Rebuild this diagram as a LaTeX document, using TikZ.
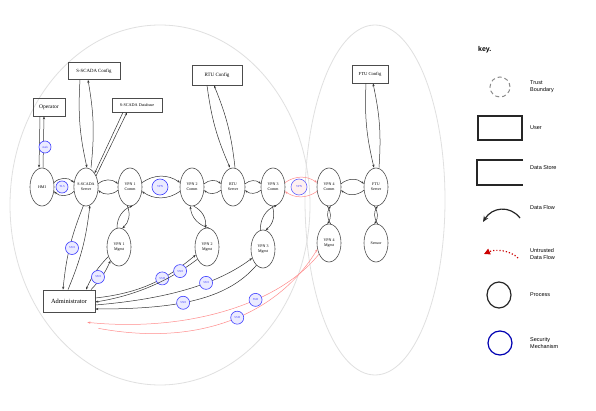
\documentclass[tikz,border=0pt]{standalone}
\usepackage{fontspec}
\setmainfont{Liberation Serif}
\newfontfamily\keyfont{Liberation Sans}
\usetikzlibrary{shapes.geometric,arrows.meta}

\tikzset{
  boundary/.style={draw=black!12, line width=0.8pt},
  proc/.style={ellipse, draw=black!70, line width=0.6pt, minimum width=24pt,
    minimum height=38pt, inner sep=0pt, align=center,
    font=\fontsize{4}{4.8}\selectfont},
  userbox/.style={draw=black!70, line width=0.7pt, inner sep=0pt, align=center},
  sec/.style={circle, draw=blue!75, fill=blue!8, line width=0.6pt,
    minimum size=13pt, inner sep=0pt, text=blue!75,
    font=\fontsize{3}{3.5}\selectfont},
  flow/.style={draw=black!80, line width=0.5pt, -{Stealth[length=3pt,width=2.2pt]}},
  untrusted/.style={draw=red!45, line width=0.5pt, -{Stealth[length=3pt,width=2.2pt]}},
  keytext/.style={font=\keyfont\fontsize{5.5}{7}\selectfont, anchor=west, align=left, inner sep=0pt},
  keyline/.style={line width=1.2pt, black!85}
}

\begin{document}
\begin{tikzpicture}[x=1pt,y=-1pt]
\useasboundingbox (0,0) rectangle (596,411);
\fill[white] (0,0) rectangle (596,411);

% trust boundaries
\draw[boundary] (160,205) ellipse [x radius=150pt, y radius=180pt];
\draw[boundary] (375,200) ellipse [x radius=70pt, y radius=175pt];

% users and data stores
\node[userbox, minimum width=32pt, minimum height=18pt, font=\fontsize{5.5}{6.5}\selectfont] (operator) at (49,107) {Operator};
\node[userbox, minimum width=52pt, minimum height=17pt, font=\fontsize{4.8}{5.5}\selectfont] (scfg) at (94,71) {S-SCADA Config};
\node[userbox, minimum width=50pt, minimum height=14pt, font=\fontsize{4.2}{5}\selectfont] (sdb) at (137,105) {S-SCADA Database};
\node[userbox, minimum width=50pt, minimum height=20pt, font=\fontsize{5}{6}\selectfont] (rtucfg) at (217,75) {RTU Config};
\node[userbox, minimum width=36pt, minimum height=18pt, font=\fontsize{4.6}{5.5}\selectfont] (ftucfg) at (370,74) {FTU Config};
\node[userbox, minimum width=52pt, minimum height=22pt, font=\fontsize{6.4}{7.5}\selectfont] (admin) at (69,301) {Administrator};

% processes, main row
\node[proc] (hmi)   at (42,187)  {HMI};
\node[proc] (scada) at (86,187)  {S-SCADA\\Server};
\node[proc] (vpn1c) at (130,187) {VPN 1\\Comm};
\node[proc] (vpn2c) at (192,187) {VPN 2\\Comm};
\node[proc] (rtu)   at (233,187) {RTU\\Server};
\node[proc] (vpn3c) at (273,187) {VPN 3\\Comm};
\node[proc] (vpn4c) at (329,187) {VPN 4\\Comm};
\node[proc] (ftu)   at (376,187) {FTU\\Server};

% processes, lower row
\node[proc] (vpn1m)  at (119,247) {VPN 1\\Mgmt};
\node[proc] (vpn2m)  at (207,247) {VPN 2\\Mgmt};
\node[proc] (vpn3m)  at (263,249) {VPN 3\\Mgmt};
\node[proc] (vpn4m)  at (329,243) {VPN 4\\Mgmt};
\node[proc] (sensor) at (376,243) {Sensor};

% operator <-> HMI
\draw[flow] ([xshift=-9pt]operator.south) -- ([xshift=-3pt]hmi.north);
\draw[flow] ([xshift=1pt]hmi.north) -- ([xshift=-5pt]operator.south);

% config / database flows
\draw[flow] ([xshift=-14pt]scfg.south) to[bend right=8] ([xshift=1pt]scada.north);
\draw[flow] ([xshift=5pt]scada.north) to[bend right=8] ([xshift=-6pt]scfg.south);
\draw[flow] ([xshift=-14pt]sdb.south) -- (scada.58);
\draw[flow] (scada.48) -- ([xshift=-10pt]sdb.south);
\draw[flow] ([xshift=-10pt]rtucfg.south) to[bend right=8] ([xshift=-3pt]rtu.north);
\draw[flow] ([xshift=2pt]rtu.north) to[bend right=8] ([xshift=-3pt]rtucfg.south);
\draw[flow] ([xshift=-4pt]ftucfg.south) to[bend right=8] ([xshift=-2pt]ftu.north);
\draw[flow] ([xshift=3pt]ftu.north) to[bend right=8] ([xshift=3pt]ftucfg.south);

% main row flows
\draw[flow] (hmi.20) to[bend left=45] (scada.160);
\draw[flow] (scada.200) to[bend left=45] (hmi.340);
\draw[flow] (scada.15) to[bend left=40] (vpn1c.165);
\draw[flow] (vpn1c.195) to[bend left=40] (scada.345);
\draw[flow] (vpn1c.20) to[bend left=35] (vpn2c.160);
\draw[flow] (vpn2c.200) to[bend left=35] (vpn1c.340);
\draw[flow] (vpn2c.15) to[bend left=40] (rtu.165);
\draw[flow] (rtu.195) to[bend left=40] (vpn2c.345);
\draw[flow] (rtu.15) to[bend left=40] (vpn3c.165);
\draw[flow] (vpn3c.195) to[bend left=40] (rtu.345);
\draw[untrusted] (vpn3c.20) to[bend left=35] (vpn4c.160);
\draw[untrusted] (vpn4c.200) to[bend left=35] (vpn3c.340);
\draw[flow] (vpn4c.15) to[bend left=40] (ftu.165);
\draw[flow] (ftu.195) to[bend left=40] (vpn4c.345);

% comm <-> management flows
\draw[flow] (vpn1c.262) to[bend left=35] (vpn1m.80);
\draw[flow] (vpn1m.96) to[bend left=35] (vpn1c.278);
\draw[flow] (vpn2c.275) to[bend left=35] (vpn2m.95);
\draw[flow] (vpn2m.85) to[bend left=35] (vpn2c.265);
\draw[flow] (vpn3c.268) to[bend left=35] (vpn3m.82);
\draw[flow] (vpn3m.98) to[bend left=35] (vpn3c.282);
\draw[flow] (vpn4c.265) to[bend left=35] (vpn4m.95);
\draw[flow] (vpn4m.85) to[bend left=35] (vpn4c.275);
\draw[flow] (ftu.265) to[bend left=35] (sensor.95);
\draw[flow] (sensor.85) to[bend left=35] (ftu.275);

% administrator flows
\draw[flow] (scada.262) to[bend right=8] ([xshift=-6pt]admin.north);
\draw[flow] ([xshift=-1pt]admin.north) to[bend right=8] (scada.282);
\draw[flow] ([xshift=22pt]admin.north) to[bend right=10] (vpn1m.238);
\draw[flow] (vpn1m.222) to[bend right=10] ([xshift=17pt]admin.north);
\draw[flow] ([yshift=3pt]admin.east) .. controls +(45,-5) and +(-30,25) .. (vpn2m.215)
  node[sec, pos=0.62] (s6) {SSH};
\draw[flow] (vpn2m.232) .. controls +(-20,15) and +(50,-8) .. ([yshift=-1pt]admin.east)
  node[sec, pos=0.25] (s5) {SSH};
\draw[flow] ([yshift=-4pt]admin.east) .. controls +(60,-5) and +(-40,30) .. (vpn3m.220)
  node[sec, pos=0.66] (s7) {SSH};
\draw[flow] (vpn3m.248) .. controls +(-30,35) and +(80,0) .. ([yshift=-8pt]admin.east)
  node[sec, pos=0.57] (s8) {SSH};
\draw[untrusted] (vpn4m.228) .. controls +(-40,50) and +(100,10) .. ([xshift=-8pt,yshift=-10pt]admin.south east)
  node[sec, pos=0.37] (s9) {SSH};
\draw[untrusted] ([xshift=3pt,yshift=-16pt]admin.south east) .. controls +(120,22) and +(-30,50) .. (vpn4m.208)
  node[sec, pos=0.48] (s10) {SSH};

% security mechanisms on the main flows
\node[sec, minimum size=12pt] (s1) at (45,147) {Auth};
\node[sec, minimum size=12pt] (s2) at (62,187) {TLS};
\node[sec, minimum size=16pt] (s3) at (160,187) {VPN};
\node[sec, minimum size=16pt, fill=red!6, draw=blue!60] (s4) at (299,187) {VPN};
\node[sec] (sa) at (72,248) {SSH};
\node[sec] (sb) at (98,277) {SSH};

% key
\node[font=\keyfont\bfseries\fontsize{7}{8}\selectfont, anchor=west, inner sep=0pt] (keytitle) at (478,50) {key.};
\draw[gray!90, line width=1pt, dash pattern=on 4pt off 3pt] (500,87) circle [radius=10pt];
\node[keytext] (kt1) at (530,87) {Trust\\Boundary};
\draw[keyline] (478,116) rectangle (522,140);
\node[keytext] (kt2) at (530,128) {User};
\draw[keyline] (523,160) -| (477,185) -- (523,185);
\node[keytext] (kt3) at (530,168) {Data Store};
\draw[keyline, -{Stealth[length=6pt,width=5pt]}] (520,218) .. controls (510,205) and (492,207) .. (483,222);
\node[keytext] (kt4) at (530,208) {Data Flow};
\draw[red!80!black, line width=1.2pt, dotted, -{Triangle[length=6pt,width=6pt]}] (518,258) .. controls (510,250) and (495,249) .. (484,254);
\node[keytext] (kt5) at (530,254) {Untrusted\\Data Flow};
\draw[keyline] (499,295) ellipse [x radius=12pt, y radius=13pt];
\node[keytext] (kt6) at (530,295) {Process};
\draw[blue!70!black, line width=1.2pt] (500,343) circle [radius=12pt];
\node[keytext] (kt7) at (530,343) {Security\\Mechanism};
\end{tikzpicture}
\end{document}
